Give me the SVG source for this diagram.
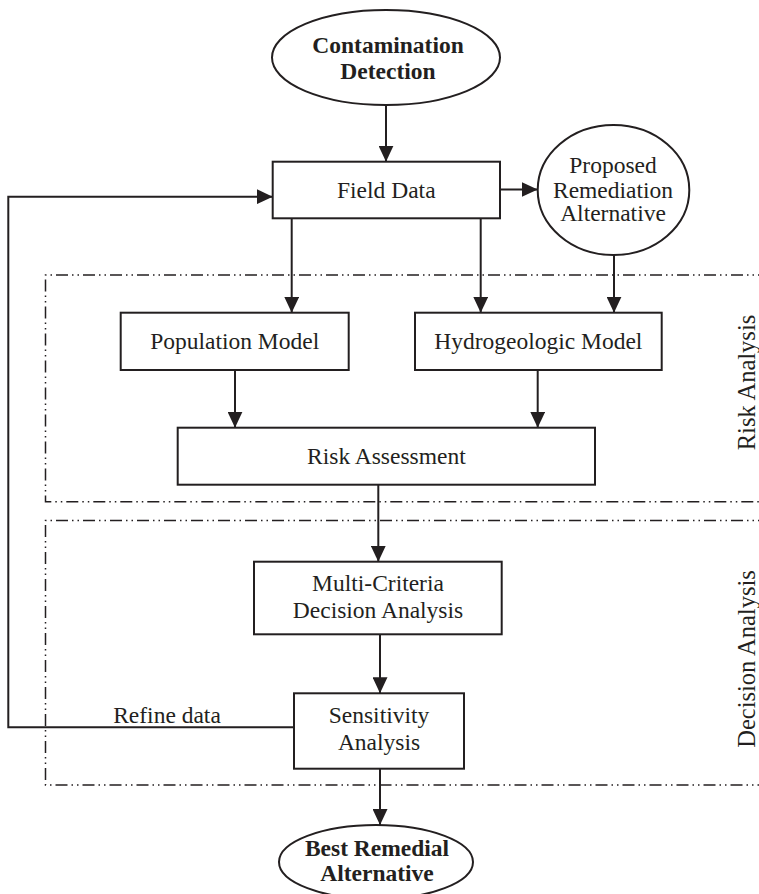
<svg xmlns="http://www.w3.org/2000/svg" width="759" height="894" viewBox="0 0 759 894">
<style>
.box{fill:#fff;stroke:#231f20;stroke-width:2}
.t{font-family:"Liberation Serif","Times New Roman",serif;font-size:23.5px;fill:#231f20;text-anchor:middle}
.b{font-weight:bold}
.v{font-size:24.5px}
.c{fill:none;stroke:#231f20;stroke-width:2}
.grp{fill:none;stroke:#231f20;stroke-width:1.5;stroke-dasharray:12 4 1.5 4 1.5 4}
</style>
<defs>
<marker id="ah" markerUnits="userSpaceOnUse" markerWidth="16" markerHeight="15" refX="16" refY="7.5" orient="auto">
<path d="M0,0 L16,7.5 L0,15 z" fill="#231f20"/>
</marker>
</defs>
<rect width="759" height="894" fill="#fff"/>
<g id="groups">
<path class="grp" d="M770,275 H45.5 V501.7 H770"/>
<path class="grp" d="M770,520.5 H45.5 V785 H770"/>
<text class="t v" transform="translate(754.5,382.5) rotate(-90)">Risk Analysis</text>
<text class="t v" transform="translate(754.5,659) rotate(-90)">Decision Analysis</text>
</g>
<g id="connectors">
<path class="c" d="M386,105 V161.7" marker-end="url(#ah)"/>
<path class="c" d="M500,189.5 H537.7" marker-end="url(#ah)"/>
<path class="c" d="M291.7,218.3 V312.7" marker-end="url(#ah)"/>
<path class="c" d="M480.7,218.3 V312.7" marker-end="url(#ah)"/>
<path class="c" d="M614,255 V312.7" marker-end="url(#ah)"/>
<path class="c" d="M235,370 V427.7" marker-end="url(#ah)"/>
<path class="c" d="M537.7,370 V427.7" marker-end="url(#ah)"/>
<path class="c" d="M378.3,484.7 V561.7" marker-end="url(#ah)"/>
<path class="c" d="M380,634.3 V693.3" marker-end="url(#ah)"/>
<path class="c" d="M380,768.7 V825" marker-end="url(#ah)"/>
<path class="c" d="M294,727.3 H8.3 V196.7 H272.7" marker-end="url(#ah)"/>
<text class="t" x="167" y="723">Refine data</text>
</g>
<g id="contamination">
<ellipse class="box" cx="386" cy="57.5" rx="114" ry="47.5"/>
<text class="t b" x="388" y="53">Contamination</text>
<text class="t b" x="388" y="79">Detection</text>
</g>
<g id="field-data">
<rect class="box" x="272.7" y="161.7" width="227.3" height="56.6"/>
<text class="t" x="386.3" y="198">Field Data</text>
</g>
<g id="proposed">
<ellipse class="box" cx="613.5" cy="190" rx="75.8" ry="65"/>
<text class="t" x="613" y="173">Proposed</text>
<text class="t" x="613" y="197.5">Remediation</text>
<text class="t" x="613" y="221">Alternative</text>
</g>
<g id="population">
<rect class="box" x="120.7" y="312.7" width="228" height="57.3"/>
<text class="t" x="234.7" y="349.3">Population Model</text>
</g>
<g id="hydrogeologic">
<rect class="box" x="415" y="312.7" width="246.7" height="57.3"/>
<text class="t" x="538.3" y="349.3">Hydrogeologic Model</text>
</g>
<g id="risk-assessment">
<rect class="box" x="177.7" y="427.7" width="417.3" height="57"/>
<text class="t" x="386.4" y="464">Risk Assessment</text>
</g>
<g id="mcda">
<rect class="box" x="254" y="561.7" width="247.7" height="72.6"/>
<text class="t" x="378" y="591">Multi-Criteria</text>
<text class="t" x="378" y="617.7">Decision Analysis</text>
</g>
<g id="sensitivity">
<rect class="box" x="294" y="693.3" width="170" height="75.4"/>
<text class="t" x="379" y="722.5">Sensitivity</text>
<text class="t" x="379" y="749.5">Analysis</text>
</g>
<g id="best">
<ellipse class="box" cx="376" cy="862" rx="97" ry="37"/>
<text class="t b" x="377" y="855.5">Best Remedial</text>
<text class="t b" x="377" y="881">Alternative</text>
</g>
</svg>
